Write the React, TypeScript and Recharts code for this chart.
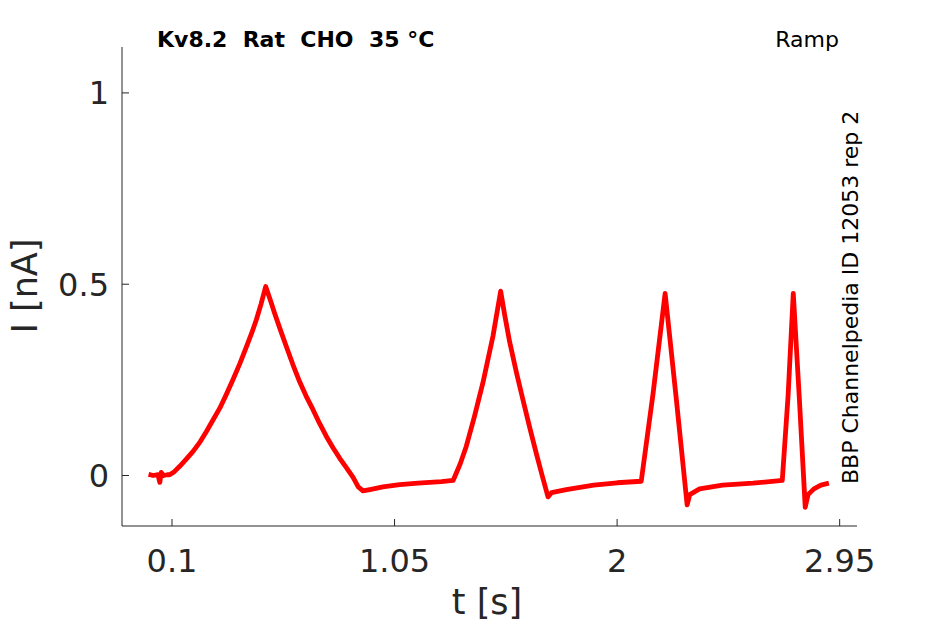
import { Line, LineChart, XAxis, YAxis } from "recharts";

const tSec = [
  0, 0.02, 0.04, 0.048, 0.054, 0.065, 0.08, 0.09,
  0.11, 0.133, 0.16, 0.19, 0.22, 0.247, 0.275, 0.304, 0.332, 0.36, 0.39, 0.418, 0.44, 0.46, 0.48, 0.5,
  0.52, 0.538, 0.563, 0.588, 0.616, 0.645, 0.673, 0.702, 0.73, 0.759, 0.788, 0.816, 0.845, 0.873, 0.895, 0.915,
  0.95, 1.0, 1.072, 1.15, 1.25, 1.3,
  1.33, 1.356, 1.39, 1.427, 1.47, 1.503,
  1.52, 1.541, 1.57, 1.598, 1.627, 1.655, 1.68, 1.705,
  1.72, 1.783, 1.9, 2.0, 2.103,
  2.153, 2.205, 2.253, 2.299,
  2.31, 2.352, 2.45, 2.58, 2.705,
  2.73, 2.752, 2.778, 2.803,
  2.815, 2.84, 2.87, 2.904,
];
const iNa = [
  0.003, 0.0, 0.002, -0.018, 0.008, 0.0, 0.002, 0.002,
  0.01, 0.024, 0.042, 0.063, 0.088, 0.115, 0.145, 0.176, 0.212, 0.25, 0.293, 0.337, 0.372, 0.407, 0.448, 0.494,
  0.458, 0.424, 0.38, 0.337, 0.29, 0.245, 0.207, 0.172, 0.136, 0.102, 0.072, 0.045, 0.02, -0.005, -0.03, -0.04,
  -0.036, -0.03, -0.024, -0.02, -0.016, -0.013,
  0.03, 0.076, 0.152, 0.242, 0.364, 0.482,
  0.42, 0.35, 0.27, 0.198, 0.125, 0.058, 0.0, -0.056,
  -0.045, -0.037, -0.025, -0.019, -0.015,
  0.212, 0.476, 0.198, -0.077,
  -0.05, -0.035, -0.025, -0.02, -0.013,
  0.21, 0.476, 0.2, -0.083,
  -0.05, -0.035, -0.025, -0.02,
];

const xTicks = [0.1, 1.05, 2, 2.95];
const yTicks = [0, 0.5, 1];

const data = tSec.map((t, i) => ({ t, i: iNa[i] }));

const ink = "#262626";
const font = "'DejaVu Sans', sans-serif";

export default function App() {
  return (
    <div style={{ width: 945, height: 624 }}>
      <style>{"body{margin:0}"}</style>
      <LineChart width={945} height={624} data={data} margin={{ top: 47, right: 88, left: 0, bottom: 0 }}>
        <XAxis
          dataKey="t"
          type="number"
          domain={[-0.1134, 3.024]}
          ticks={xTicks}
          allowDataOverflow
          height={98}
          stroke={ink}
          tickSize={-7}
          tickMargin={30}
          tick={{ fill: ink, fontSize: 32, fontFamily: font }}
        />
        <YAxis
          dataKey="i"
          type="number"
          domain={[-0.132, 1.12]}
          ticks={yTicks}
          allowDataOverflow
          width={122}
          stroke={ink}
          tickSize={-7}
          tickMargin={20}
          tick={{ fill: ink, fontSize: 32, fontFamily: font }}
        />
        <Line
          dataKey="i"
          type="linear"
          stroke="#ff0000"
          strokeWidth={4.8}
          strokeLinejoin="round"
          dot={false}
          isAnimationActive={false}
        />
        <text x={157} y={47} fontFamily={font} fontSize={22} fontWeight="bold" fill="#000" style={{ whiteSpace: "pre" }}>
          {"Kv8.2  Rat  CHO  35 °C"}
        </text>
        <text x={839} y={47} fontFamily={font} fontSize={22} fill="#000" textAnchor="end">
          Ramp
        </text>
        <text x={858} y={484} fontFamily={font} fontSize={22} fill="#000" transform="rotate(-90 858 484)">
          BBP Channelpedia ID 12053 rep 2
        </text>
        <text x={487} y={614} fontFamily={font} fontSize={35} fill={ink} textAnchor="middle">
          t [s]
        </text>
        <text x={37} y={286} fontFamily={font} fontSize={35} fill={ink} textAnchor="middle" transform="rotate(-90 37 286)">
          I [nA]
        </text>
      </LineChart>
    </div>
  );
}
